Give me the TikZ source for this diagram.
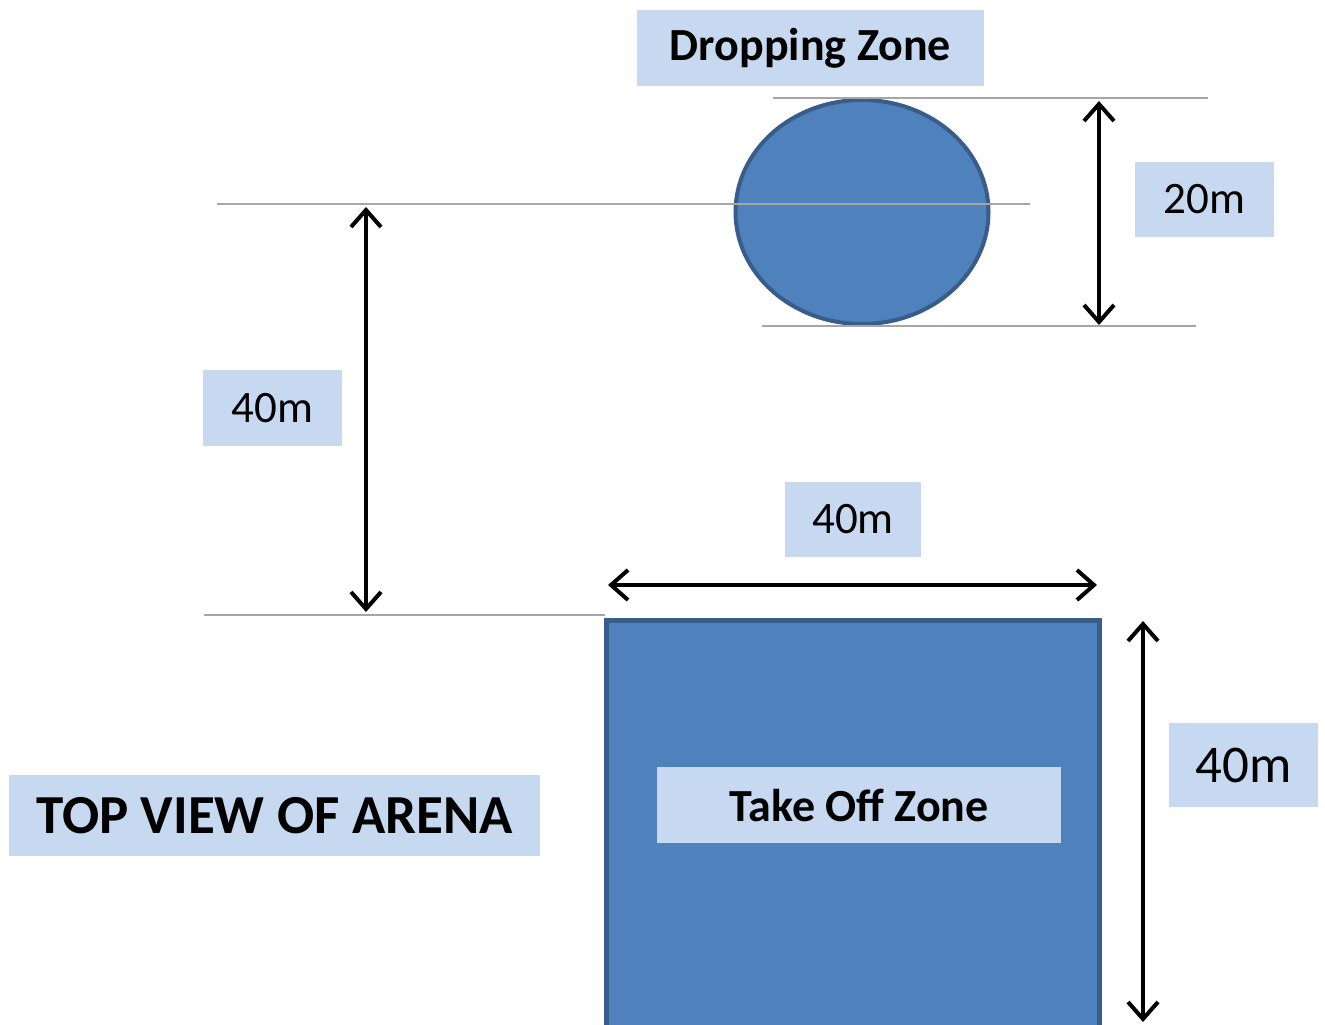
\documentclass[tikz,border=0pt]{standalone}
\usepackage{fontspec}
\setmainfont{Carlito}
\usetikzlibrary{arrows.meta,shapes.geometric}
\definecolor{zonefill}{HTML}{4F81BD}
\definecolor{zoneline}{HTML}{385D8A}
\definecolor{labelfill}{HTML}{C6D9F1}
\tikzset{
  lbl/.style={fill=labelfill,inner sep=0pt,align=center,text=black},
  guide/.style={draw=gray!70,line width=1.6pt},
  dim/.style={line width=4pt,{Straight Barb[length=17pt,width=30pt,line width=4pt]}-{Straight Barb[length=17pt,width=30pt,line width=4pt]}},
}
\begin{document}
\begin{tikzpicture}[x=1pt,y=-1pt]
\useasboundingbox (0,0) rectangle (1325,1025);
% guide lines
\coordinate (g1a) at (773,98);  \coordinate (g1b) at (1208,98);
\coordinate (g2a) at (217,204); \coordinate (g2b) at (1030,204);
\coordinate (g3a) at (762,326); \coordinate (g3b) at (1196,326);
\coordinate (g4a) at (204,615); \coordinate (g4b) at (605,615);
% shapes
\node[ellipse,draw=zoneline,fill=zonefill,line width=4pt,minimum width=253pt,minimum height=224pt,inner sep=0pt] (drop) at (862,212) {};
\node[rectangle,draw=zoneline,fill=zonefill,line width=5pt,minimum width=493pt,minimum height=440pt,inner sep=0pt,anchor=north] (arena) at (853,618) {};
\draw[guide] (g1a) -- (g1b);
\draw[guide] (g2a) -- (g2b);
\draw[guide] (g3a) -- (g3b);
\draw[guide] (g4a) -- (g4b);
% dimension arrows
\coordinate (a20t) at (1099,101); \coordinate (a20b) at (1099,325);
\coordinate (a40lt) at (366,207); \coordinate (a40lb) at (366,612);
\coordinate (a40hl) at (608,585); \coordinate (a40hr) at (1097,585);
\coordinate (a40rt) at (1143,621); \coordinate (a40rb) at (1143,1022);
\draw[dim] (a20t) -- (a20b);
\draw[dim] (a40lt) -- (a40lb);
\draw[dim] (a40hl) -- (a40hr);
\draw[dim] (a40rt) -- (a40rb);
% labels
\node[lbl,minimum width=347pt,minimum height=76pt,font=\fontsize{46}{50}\selectfont\bfseries] (ldrop) at (810.5,48) {\raisebox{-3pt}{Dropping Zone}};
\node[lbl,minimum width=139pt,minimum height=75pt,font=\fontsize{45}{50}\selectfont] (l20) at (1204.5,199.5) {20m};
\node[lbl,minimum width=139pt,minimum height=76pt,font=\fontsize{45}{50}\selectfont] (l40a) at (272.5,408) {40m};
\node[lbl,minimum width=136pt,minimum height=75pt,font=\fontsize{45}{50}\selectfont] (l40b) at (853,519.5) {40m};
\node[lbl,minimum width=149pt,minimum height=84pt,font=\fontsize{53}{58}\selectfont] (l40c) at (1243.5,765) {40m};
\node[lbl,minimum width=404pt,minimum height=76pt,font=\fontsize{46}{50}\selectfont\bfseries] (ltake) at (859,805) {Take Off Zone};
\node[lbl,minimum width=531pt,minimum height=81pt,font=\fontsize{55}{60}\selectfont\bfseries] (ltop) at (274.5,815.5) {TOP VIEW OF ARENA};
\end{tikzpicture}
\end{document}
